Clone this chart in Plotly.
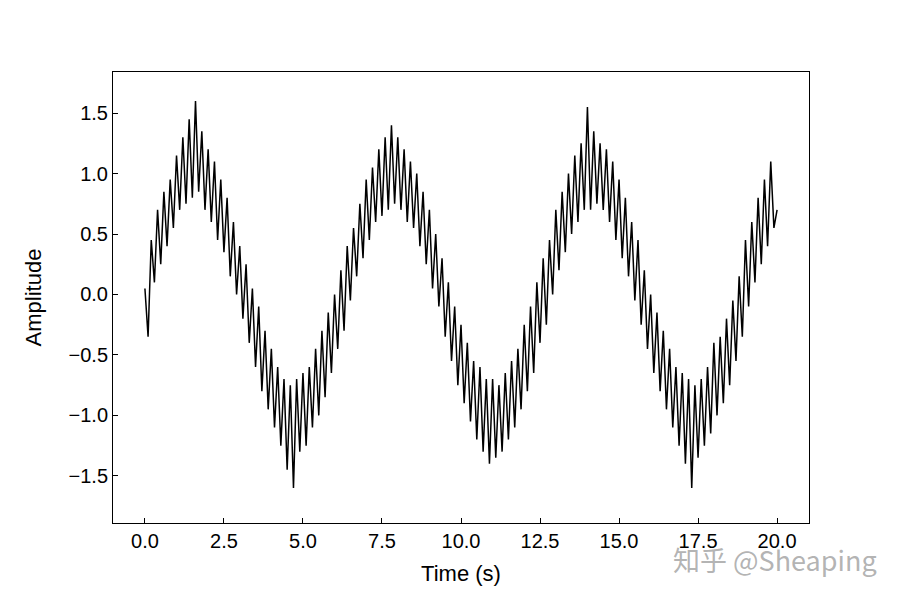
import plotly.graph_objects as go

time_s = [round(i * 0.1, 1) for i in range(201)]
amplitude = [
    0.05, -0.35, 0.45, 0.1, 0.7, 0.25, 0.85, 0.4, 0.95, 0.55,
    1.15, 0.7, 1.3, 0.75, 1.45, 0.8, 1.6, 0.85, 1.35, 0.7,
    1.2, 0.6, 1.1, 0.45, 0.95, 0.35, 0.8, 0.15, 0.6, 0.0,
    0.4, -0.2, 0.25, -0.4, 0.05, -0.6, -0.1, -0.8, -0.3, -0.95,
    -0.45, -1.1, -0.6, -1.25, -0.7, -1.45, -0.75, -1.6, -0.7, -1.3,
    -0.65, -1.25, -0.6, -1.1, -0.45, -1.0, -0.3, -0.85, -0.15, -0.65,
    0.0, -0.45, 0.2, -0.3, 0.4, -0.05, 0.55, 0.15, 0.75, 0.3,
    0.95, 0.45, 1.05, 0.6, 1.2, 0.65, 1.3, 0.7, 1.4, 0.75,
    1.3, 0.7, 1.2, 0.6, 1.1, 0.55, 1.0, 0.4, 0.85, 0.25,
    0.7, 0.05, 0.5, -0.1, 0.3, -0.35, 0.1, -0.55, -0.1, -0.75,
    -0.25, -0.9, -0.4, -1.05, -0.55, -1.2, -0.6, -1.3, -0.7, -1.4,
    -0.7, -1.35, -0.75, -1.3, -0.65, -1.2, -0.55, -1.1, -0.45, -0.95,
    -0.25, -0.8, -0.1, -0.65, 0.1, -0.4, 0.3, -0.25, 0.45, 0.0,
    0.7, 0.2, 0.85, 0.35, 1.0, 0.5, 1.15, 0.6, 1.25, 0.7,
    1.55, 0.7, 1.35, 0.75, 1.25, 0.7, 1.2, 0.6, 1.1, 0.45,
    0.95, 0.3, 0.8, 0.15, 0.6, -0.05, 0.45, -0.25, 0.2, -0.45,
    0.0, -0.65, -0.15, -0.8, -0.3, -0.95, -0.45, -1.1, -0.6, -1.25,
    -0.65, -1.4, -0.7, -1.6, -0.75, -1.35, -0.7, -1.25, -0.6, -1.15,
    -0.4, -1.0, -0.35, -0.9, -0.2, -0.75, -0.05, -0.55, 0.15, -0.35,
    0.45, -0.1, 0.6, 0.1, 0.8, 0.25, 0.95, 0.4, 1.1, 0.55,
    0.7,
]
x_ticks = [0, 2.5, 5, 7.5, 10, 12.5, 15, 17.5, 20]
y_ticks = [-1.5, -1.0, -0.5, 0.0, 0.5, 1.0, 1.5]

fig = go.Figure(go.Scatter(x=time_s, y=amplitude, mode='lines',
                           line=dict(color='black', width=1.5)))

axis_style = dict(showline=True, linecolor='black', linewidth=1, mirror=True,
                  ticks='inside', ticklen=5, tickcolor='black',
                  showgrid=False, zeroline=False,
                  tickfont=dict(size=20, color='black'))
fig.update_xaxes(range=[-1.01, 21.01], tickvals=x_ticks,
                 ticktext=[f'{v:.1f}' for v in x_ticks],
                 title=dict(text='Time (s)', font=dict(size=22, color='black'), standoff=14),
                 **axis_style)
fig.update_yaxes(range=[-1.89, 1.84], tickvals=y_ticks,
                 ticktext=[f'{v:.1f}'.replace('-', '−') for v in y_ticks],
                 title=dict(text='Amplitude', font=dict(size=22, color='black'), standoff=20),
                 **axis_style)

fig.add_annotation(text='知乎 @Sheaping', xref='paper', yref='paper',
                   x=1.1, y=-0.082, xanchor='right', yanchor='middle', showarrow=False,
                   font=dict(size=27, color='rgba(160,160,160,0.8)',
                             family='Noto Sans CJK SC'))

fig.update_layout(width=900, height=600, plot_bgcolor='white', paper_bgcolor='white',
                  margin=dict(l=105, r=99, t=64, b=85),
                  font=dict(family='Liberation Sans'), showlegend=False)

fig.write_html('out.html')
